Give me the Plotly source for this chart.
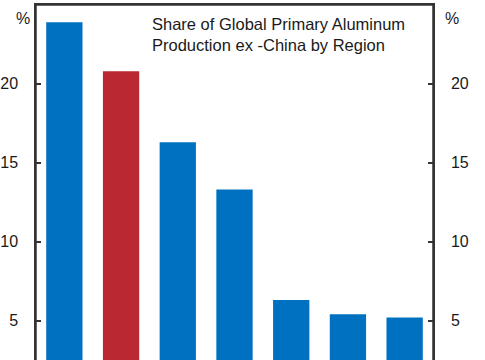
import plotly.graph_objects as go

regions = ["Middle East", "Russia", "North America", "India", "Europe", "Oceania", "Latin America"]
shares = [23.9, 20.8, 16.3, 13.3, 6.3, 5.4, 5.2]
bar_colors = ["#0070C0", "#BA2832", "#0070C0", "#0070C0", "#0070C0", "#0070C0", "#0070C0"]
y_ticks = [5, 10, 15, 20]
title_lines = ["Share of Global Primary Aluminum", "Production ex -China by Region"]

fig = go.Figure()
fig.add_trace(go.Bar(x=regions, y=shares, marker=dict(color=bar_colors, line=dict(width=0)),
                     width=0.64, showlegend=False))
fig.add_trace(go.Scatter(x=regions, y=shares, yaxis="y2", mode="markers",
                         marker=dict(opacity=0), showlegend=False, hoverinfo="skip"))

font = dict(family="Arial, Liberation Sans, sans-serif", size=16, color="#1a1a1a")
axis_common = dict(range=[2.5, 25], tickvals=y_ticks, ticks="inside", ticklen=5, tickwidth=1.5,
                   tickcolor="#333333", showline=True, linecolor="#333333", linewidth=1.5,
                   showgrid=False, zeroline=False, tickfont=font)
frame = dict(color="#333333", width=1.5)
fig.update_layout(
    width=485, height=360,
    margin=dict(l=36, r=52, t=5, b=0),
    plot_bgcolor="white", paper_bgcolor="white",
    bargap=0.35,
    xaxis=dict(range=[-0.5, 6.5], showticklabels=False, ticks="", showline=True, mirror=True,
               linecolor="#333333", linewidth=1.5, showgrid=False),
    yaxis=dict(side="left", ticklabelstandoff=13, **axis_common),
    yaxis2=dict(side="right", overlaying="y", ticklabelstandoff=13, **axis_common),
    shapes=[
        dict(type="line", xref="paper", yref="paper", x0=0, x1=0, y0=0, y1=1, line=frame, layer="above"),
        dict(type="line", xref="paper", yref="paper", x0=1, x1=1, y0=0, y1=1, line=frame, layer="above"),
        dict(type="line", xref="paper", yref="paper", x0=0, x1=1, y0=1, y1=1, line=frame, layer="above"),
    ],
    annotations=[
        dict(text="%", xref="paper", yref="paper", x=-0.0327, y=0.963, showarrow=False,
             xanchor="center", yanchor="middle", font=font),
        dict(text="%", xref="paper", yref="paper", x=1.0466, y=0.963, showarrow=False,
             xanchor="center", yanchor="middle", font=font),
        dict(text="<br>".join(title_lines), xref="paper", yref="paper", x=0.288, y=0.918,
             showarrow=False, xanchor="left", yanchor="middle", align="left",
             font=dict(family="Arial, Liberation Sans, sans-serif", size=16.5, color="#1a1a1a")),
    ],
)
fig.write_html("out.html", config={"displayModeBar": False},
               post_script="document.body.style.margin='0';document.body.style.padding='0';")
